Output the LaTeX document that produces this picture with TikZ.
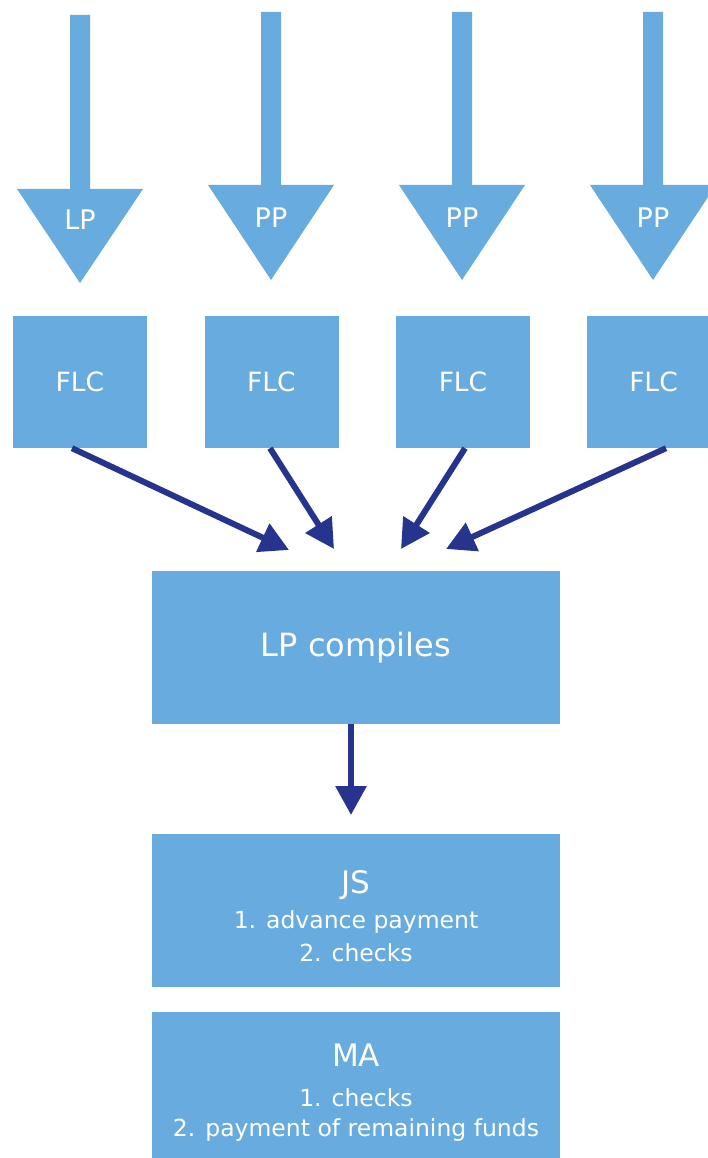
\documentclass[tikz,border=0pt]{standalone}
\usepackage{fontspec}
\setmainfont{DejaVu Sans}
\usetikzlibrary{arrows.meta}
\definecolor{boxblue}{RGB}{104,171,223}
\definecolor{navy}{RGB}{38,52,142}
\tikzset{
  box/.style={fill=boxblue, draw=none, text=white, inner sep=0pt, align=center},
  flcbox/.style={box, minimum width=134pt, minimum height=132pt, font=\fontsize{26.5}{32}\selectfont},
  widebox/.style={box, minimum width=408pt, minimum height=153pt},
  blockarrow/.style={fill=boxblue, draw=none},
  lbl/.style={text=white, inner sep=0pt, font=\fontsize{27}{32}\selectfont},
  title/.style={text=white, inner sep=0pt, font=\fontsize{31}{36}\selectfont},
  item/.style={text=white, inner sep=0pt, font=\fontsize{23.5}{28}\selectfont},
  conn/.style={draw=navy, line width=6pt, -{Triangle[length=29pt,width=30pt]}},
}
\begin{document}
\begin{tikzpicture}[x=1pt,y=-1pt]
\useasboundingbox (0,0) rectangle (708,1158);
\clip (0,0) rectangle (708,1158);
% block arrows
\fill[blockarrow] (70,15) -- (90,15) -- (90,189) -- (143,189) -- (80,283) -- (17,189) -- (70,189) -- cycle;
\fill[blockarrow] (261,12) -- (281,12) -- (281,185) -- (334,185) -- (271,280) -- (208,185) -- (261,185) -- cycle;
\fill[blockarrow] (452,12) -- (472,12) -- (472,185) -- (525,185) -- (462,280) -- (399,185) -- (452,185) -- cycle;
\fill[blockarrow] (643,12) -- (663,12) -- (663,185) -- (716,185) -- (653,280) -- (590,185) -- (643,185) -- cycle;
\node[lbl] (a1) at (80,220) {LP};
\node[lbl] (a2) at (271,218) {PP};
\node[lbl] (a3) at (462,218) {PP};
\node[lbl] (a4) at (653,218) {PP};
% FLC boxes
\node[flcbox] (f1) at (80,382) {FLC};
\node[flcbox] (f2) at (271.5,382) {FLC};
\node[flcbox] (f3) at (463,382) {FLC};
\node[flcbox] (f4) at (653.5,382) {FLC};
% compile box
\node[widebox, font=\fontsize{32}{38}\selectfont] (lpc) at (356,647.5) {LP compiles};
% JS / MA boxes
\node[widebox] (js) at (356,910.5) {};
\node[title] (jst) at (356,885) {JS};
\node[item] (js1) at (356,922) {1. advance payment};
\node[item] (js2) at (356,953) {2. checks};
\node[widebox] (ma) at (356,1088.5) {};
\node[title] (mat) at (356,1055) {MA};
\node[item] (ma1) at (356,1098) {1. checks};
\node[item] (ma2) at (356,1130) {2. payment of remaining funds};
% connectors
\coordinate (t1) at (289,550);
\coordinate (t2) at (334,549);
\coordinate (t3) at (401,549);
\coordinate (t4) at (446,549);
\coordinate (t5) at (351,815);
\draw[conn] ([xshift=-8pt]f1.south) -- (t1);
\draw[conn] ([xshift=-1.5pt]f2.south) -- (t2);
\draw[conn] ([xshift=2pt]f3.south) -- (t3);
\draw[conn] ([xshift=12.5pt]f4.south) -- (t4);
\draw[conn] ([xshift=-5pt]lpc.south) -- (t5);
\end{tikzpicture}
\end{document}
